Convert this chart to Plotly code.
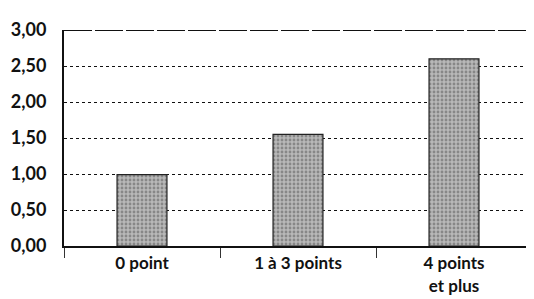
import plotly.graph_objects as go

categories = ["0 point", "1 à 3 points", "4 points<br>et plus"]
values = [0.99, 1.55, 2.60]
y_ticks = [0, 0.5, 1.0, 1.5, 2.0, 2.5, 3.0]

fig = go.Figure()
fig.add_trace(go.Bar(
    x=categories, y=values, width=0.32,
    marker=dict(color="#a3a3a3", line=dict(color="#222", width=1.2),
                pattern=dict(shape=".", fgcolor="#555", bgcolor="#b8b8b8", size=4, solidity=0.4)),
))

xfont = dict(family="Lato", size=17, color="#111", weight="bold")
yfont = dict(family="Lato", size=18, color="#111", weight="bold")

# page body adds an 8px offset; compensate so the plot area lands where the reference has it
fig.update_layout(
    width=526, height=291,
    margin=dict(l=56, r=2, t=22, b=53, autoexpand=False),
    plot_bgcolor="white", paper_bgcolor="white",
    separators=", ",
    showlegend=False,
    font=yfont,
)
fig.update_xaxes(
    showline=True, linecolor="#111", linewidth=2,
    ticks="outside", tickson="boundaries", ticklen=10, tickcolor="#333", tickwidth=1,
    showgrid=False, tickfont=xfont, ticklabelstandoff=1,
)
fig.update_yaxes(
    range=[0, 3], tickvals=y_ticks, tickformat=".2f",
    showline=True, linecolor="#111", linewidth=2,
    showgrid=True, gridcolor="#111", gridwidth=1.3, griddash="dot",
    ticks="", tickfont=yfont, ticklabelstandoff=12, zeroline=False,
)
fig.add_shape(type="line", xref="paper", yref="y", x0=0, x1=1, y0=3, y1=3,
              line=dict(color="white", width=4), layer="above")
fig.add_shape(type="line", xref="paper", yref="y", x0=0, x1=1, y0=3, y1=3,
              line=dict(color="#111", width=2, dash="28px,3px"), layer="above")

fig.write_html("out.html")
